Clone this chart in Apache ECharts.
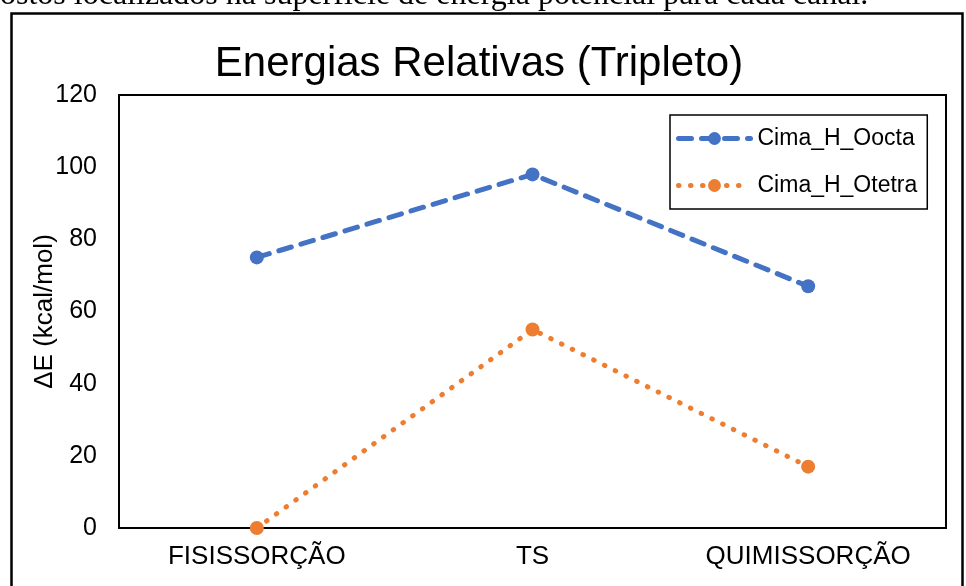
<!DOCTYPE html>
<html>
<head>
<meta charset="utf-8">
<script src="https://cdn.jsdelivr.net/npm/echarts@6/dist/echarts.min.js"></script>
<style>
  html, body { margin: 0; padding: 0; background: #fff; }
  #chart { width: 966px; height: 586px; }
</style>
</head>
<body>
<div id="chart"></div>
<script>
// Reaction stages along the coordinate
const categories = ['FISISSORÇÃO', 'TS', 'QUIMISSORÇÃO'];
// Relative energies (kcal/mol), triplet state
const oocta = [75, 98, 67];
const otetra = [0, 55, 17];
const seriesNames = ['Cima_H_Oocta', 'Cima_H_Otetra'];
const yTicks = [0, 20, 40, 60, 80, 100, 120];

const FONT = '"Liberation Sans", Arial, sans-serif';
const BLUE = '#4472C4';
const ORANGE = '#ED7D31';

const chart = echarts.init(document.getElementById('chart'), null, { renderer: 'canvas' });

chart.setOption({
  backgroundColor: '#fff',
  animation: false,
  title: {
    text: 'Energias Relativas (Tripleto)',
    left: 474,
    top: 38,
    textAlign: 'center',
    textStyle: { fontFamily: FONT, fontSize: 42, fontWeight: 'normal', color: '#000' }
  },
  graphic: [
    {
      type: 'text',
      left: 0,
      top: -20,
      style: {
        text: 'ostos localizados na superfície de energia potencial para cada canal.',
        font: '32px "Liberation Serif", "Times New Roman", serif',
        fill: '#000'
      }
    },
    {
      type: 'rect',
      shape: { x: 11.5, y: 13.5, width: 951, height: 600 },
      style: { fill: null, stroke: '#000', lineWidth: 2.5 },
      z: 0
    }
  ],
  legend: {
    orient: 'vertical',
    left: 670,
    top: 115,
    padding: [12, 10, 12, 6],
    itemGap: 24,
    itemWidth: 72,
    itemHeight: 16,
    borderColor: '#000',
    borderWidth: 1.5,
    backgroundColor: '#fff',
    lineStyle: { width: 5 },
    textStyle: { fontFamily: FONT, fontSize: 23, color: '#000', padding: [0, 0, 0, 2] },
    data: seriesNames
  },
  grid: {
    left: 119,
    top: 95,
    width: 827,
    height: 433,
    show: true,
    borderColor: '#000',
    borderWidth: 2
  },
  xAxis: {
    type: 'category',
    data: categories,
    boundaryGap: true,
    axisLine: { lineStyle: { color: '#000', width: 2 } },
    axisTick: { show: false },
    axisLabel: { fontFamily: FONT, fontSize: 26, color: '#000', margin: 16 }
  },
  yAxis: {
    type: 'value',
    min: yTicks[0],
    max: yTicks[yTicks.length - 1],
    interval: 20,
    name: 'ΔE (kcal/mol)',
    nameLocation: 'middle',
    nameGap: 61,
    nameMoveOverlap: false,
    nameRotate: 90,
    nameTextStyle: { fontFamily: FONT, fontSize: 26, color: '#000' },
    axisLine: { show: true, lineStyle: { color: '#000', width: 2 } },
    axisTick: { show: false },
    splitLine: { show: false },
    axisLabel: { fontFamily: FONT, fontSize: 25, color: '#000', margin: 22 }
  },
  series: [
    {
      name: seriesNames[0],
      type: 'line',
      data: oocta,
      symbol: 'circle',
      symbolSize: 14,
      itemStyle: { color: BLUE },
      lineStyle: { color: BLUE, width: 5, type: [13, 10], cap: 'round' },
      z: 3
    },
    {
      name: seriesNames[1],
      type: 'line',
      data: otetra,
      symbol: 'circle',
      symbolSize: 14,
      itemStyle: { color: ORANGE },
      lineStyle: { color: ORANGE, width: 5, type: [0.5, 11.5], cap: 'round' },
      z: 3
    }
  ]
});
</script>
</body>
</html>
